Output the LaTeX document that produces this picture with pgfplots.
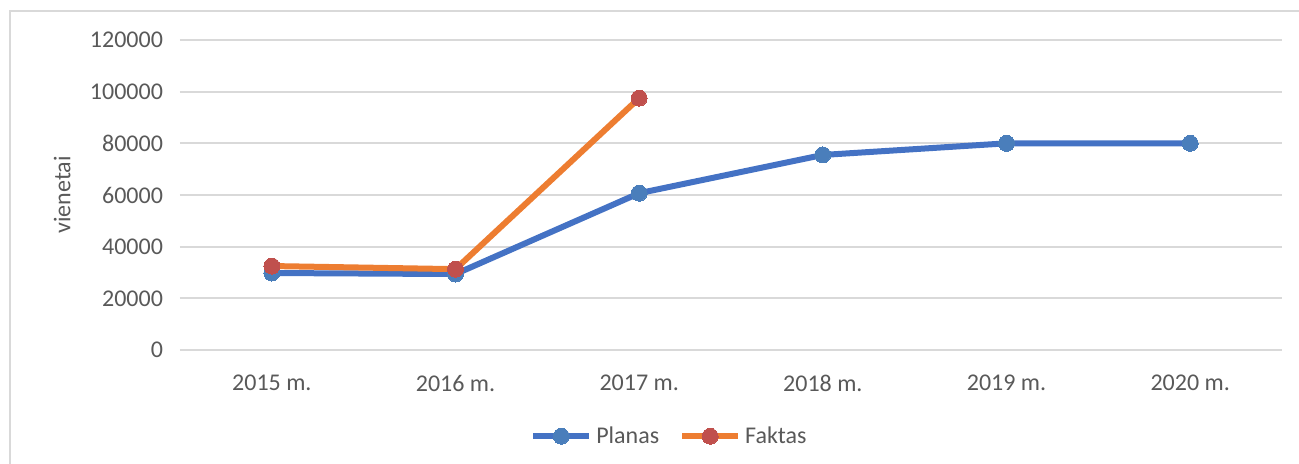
\documentclass[border=0pt]{standalone}
\usepackage{fontspec}
\setmainfont{Carlito}
\usepackage{pgfplots}
\pgfplotsset{compat=1.18}
\definecolor{planasline}{HTML}{4472C4}
\definecolor{planasmark}{HTML}{4A7EBB}
\definecolor{faktasline}{HTML}{ED7D31}
\definecolor{faktasmark}{HTML}{C0504D}
\definecolor{gridgray}{HTML}{D9D9D9}
\definecolor{txtgray}{HTML}{595959}
\definecolor{framegray}{HTML}{D9D9D9}

\begin{document}
\begin{tikzpicture}
% page = 1299x464 px at 0.5pt per px, plot box starts at (180px, 350px)
\path[use as bounding box] (-90pt,-57pt) rectangle (559.5pt,175pt);
\draw[framegray, line width=0.8pt] (-85pt,-70pt) rectangle (570pt,169.5pt);
\begin{axis}[
  at={(0,0)}, anchor=south west,
  scale only axis,
  width=551pt, height=155pt,
  xmin=-0.5, xmax=5.5,
  ymin=0, ymax=120000,
  scaled y ticks=false,
  xtick={0,1,2,3,4,5},
  xticklabels={2015 m.,2016 m.,2017 m.,2018 m.,2019 m.,2020 m.},
  ytick={0,20000,40000,60000,80000,100000,120000},
  yticklabels={0,20000,40000,60000,80000,100000,120000},
  tick label style={font=\fontsize{12}{14}\selectfont, text=txtgray},
  xticklabel style={yshift=-9pt},
  yticklabel style={xshift=-5pt},
  major tick length=0pt,
  axis line style={draw=none},
  ymajorgrids,
  grid style={gridgray, line width=0.9pt},
  ylabel={vienetai},
  ylabel style={font=\fontsize{12}{14}\selectfont, text=txtgray,
    at={(axis description cs:-0.107,0.5)}, anchor=center},
  legend columns=2,
  legend style={at={(rel axis cs:0.445,0)}, anchor=north, yshift=-34pt,
    draw=none, fill=none, font=\fontsize{12}{14}\selectfont, text=txtgray,
    /tikz/every even column/.append style={column sep=8pt}},
  legend image code/.code={
    \draw[#1, mark=none] (0pt,0pt) -- (28pt,0pt);
    \draw[#1, draw=none] plot coordinates {(14pt,0pt)};
  },
  clip=false,
]
\addplot[planasline, line width=3pt, mark=*, mark size=4pt,
  mark options={fill=planasmark, draw=planasmark, line width=0pt}]
  coordinates {(0,29800) (1,29400) (2,60700) (3,75500) (4,80000) (5,80000)};
\addlegendentry{Planas}
\addplot[faktasline, line width=3pt, mark=*, mark size=4pt,
  mark options={fill=faktasmark, draw=faktasmark, line width=0pt}]
  coordinates {(0,32500) (1,31300) (2,97500)};
\addlegendentry{Faktas}
\end{axis}
\end{tikzpicture}
\end{document}
